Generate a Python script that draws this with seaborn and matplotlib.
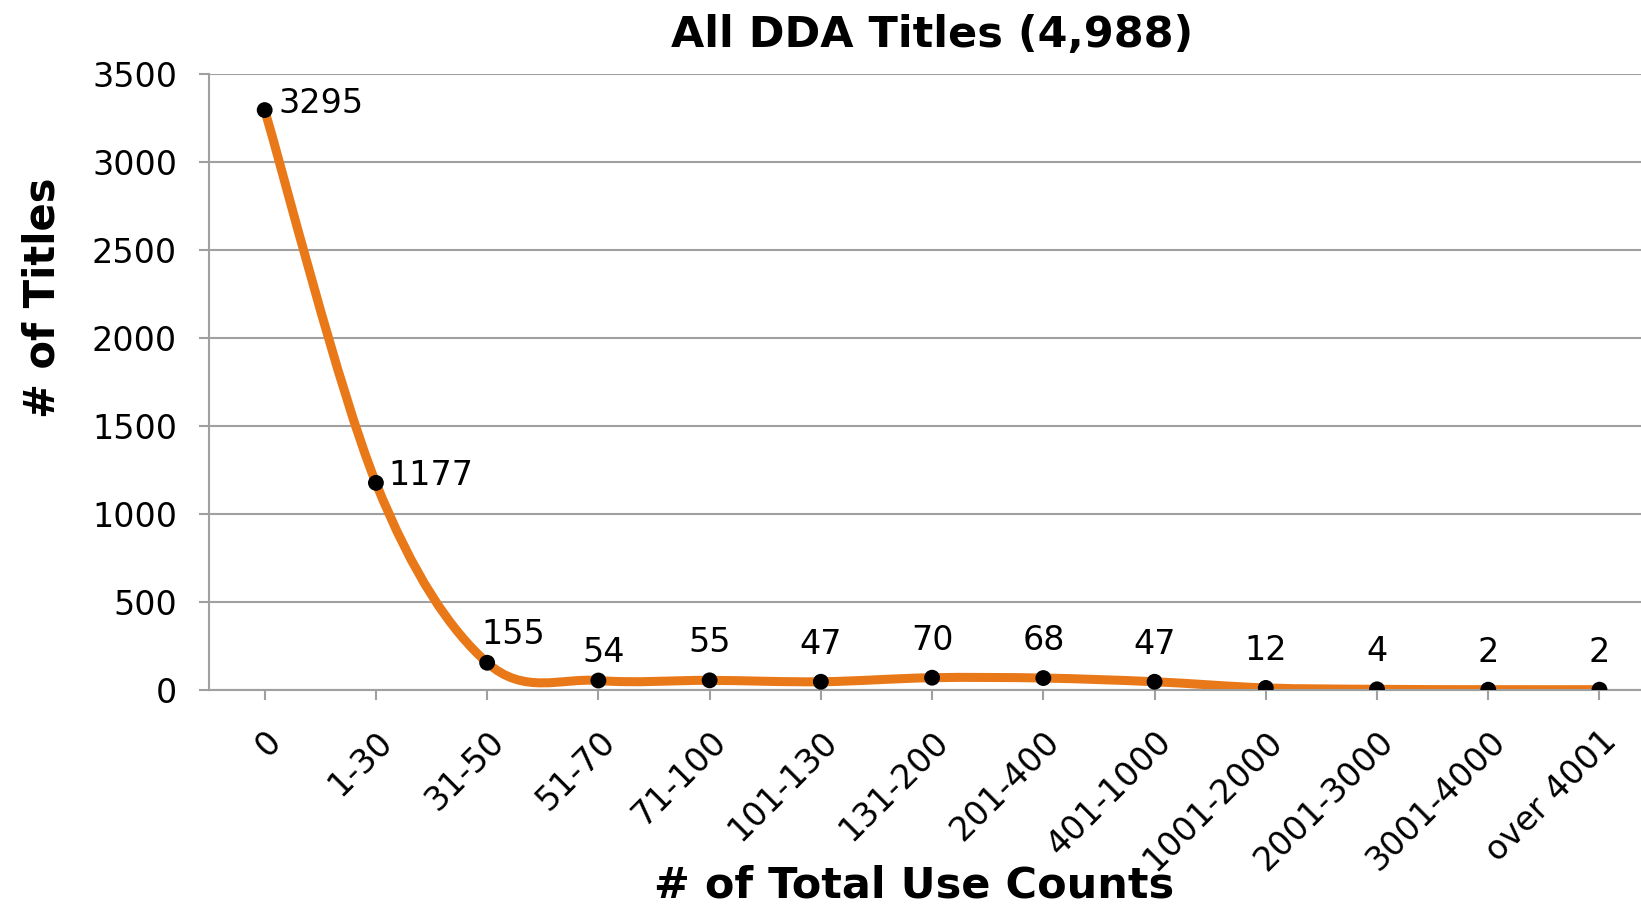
import numpy as np
import seaborn as sns
from matplotlib import pyplot as plt
from matplotlib.path import Path
from matplotlib.patches import PathPatch

# 数据
categories = ['0', '1-30', '31-50', '51-70', '71-100', '101-130', '131-200',
              '201-400', '401-1000', '1001-2000', '2001-3000', '3001-4000', 'over 4001']
title_counts = [3295, 1177, 155, 54, 55, 47, 70, 68, 47, 12, 4, 2, 2]
y_ticks = [0, 500, 1000, 1500, 2000, 2500, 3000, 3500]

sns.set_theme(style='white')
plt.rcParams['font.family'] = ['DejaVu Sans']
plt.rcParams['text.color'] = 'black'

orange = '#E97818'
grey = '#A0A0A0'

fig = plt.figure(figsize=(16.41, 9.09), dpi=100)
ax = fig.add_axes([0.1274, 0.2409, 0.8812, 0.6777])

x_pos = np.arange(len(categories))

# 平滑曲线 (类似 Excel 的平滑线)
pts = np.column_stack([x_pos, title_counts]).astype(float)
padded = np.vstack([pts[0], pts, pts[-1]])
verts = [pts[0]]
codes = [Path.MOVETO]
for i in range(len(pts) - 1):
    p0, p1, p2, p3 = padded[i], padded[i + 1], padded[i + 2], padded[i + 3]
    verts += [p1 + (p2 - p0) / 6, p2 - (p3 - p1) / 6, p2]
    codes += [Path.CURVE4] * 3
ax.add_patch(PathPatch(Path(verts, codes), fill=False, edgecolor=orange, lw=6.5,
                       capstyle='round', joinstyle='round', zorder=2))

sns.scatterplot(x=x_pos, y=title_counts, color='black', s=130, edgecolor='none',
                zorder=3, ax=ax)

# 数据标签
for i, v in enumerate(title_counts):
    if i == 0:
        ax.annotate(str(v), (i, v), xytext=(10, 5), textcoords='offset points',
                    ha='left', va='center', fontsize=24, color='black')
    elif i == 1:
        ax.annotate(str(v), (i, v), xytext=(9, 5), textcoords='offset points',
                    ha='left', va='center', fontsize=24, color='black')
    elif i == 2:
        ax.annotate(str(v), (i, v), xytext=(19, 20), textcoords='offset points',
                    ha='center', va='center', fontsize=24, color='black')
    elif i == 3:
        ax.annotate(str(v), (i, v), xytext=(4, 20), textcoords='offset points',
                    ha='center', va='center', fontsize=24, color='black')
    else:
        ax.annotate(str(v), (i, v), xytext=(0, 27), textcoords='offset points',
                    ha='center', va='center', fontsize=24, color='black')

ax.set_xlim(-0.5, len(categories) - 0.5)
ax.set_ylim(0, 3500)
ax.set_yticks(y_ticks)
ax.set_xticks(x_pos, categories, rotation=45, ha='right', rotation_mode='anchor')
ax.yaxis.grid(True, color=grey, lw=1.5)
ax.set_axisbelow(True)
for side in ['top', 'right']:
    ax.spines[side].set_visible(False)
for side in ['left', 'bottom']:
    ax.spines[side].set_color(grey)
    ax.spines[side].set_linewidth(1.5)
ax.tick_params(axis='both', bottom=True, left=True, direction='out', length=7,
               width=1.5, color=grey, labelsize=24, labelcolor='black')
ax.tick_params(axis='y', pad=16)
ax.tick_params(axis='x', pad=18)

ax.set_title('All DDA Titles (4,988)', fontsize=31, fontweight='bold', y=1.064,
             va='center', pad=0, color='black')
ax.set_xlabel('# of Total Use Counts', fontsize=31, fontweight='bold', color='black')
ax.xaxis.set_label_coords(0.4876, -0.318)
ax.set_ylabel('# of Titles', fontsize=30, fontweight='bold', color='black')
ax.yaxis.set_label_coords(-0.1155, 0.636)
ax.xaxis.label.set_va('center')
ax.yaxis.label.set_va('center')

plt.savefig('out.png', dpi=100)
